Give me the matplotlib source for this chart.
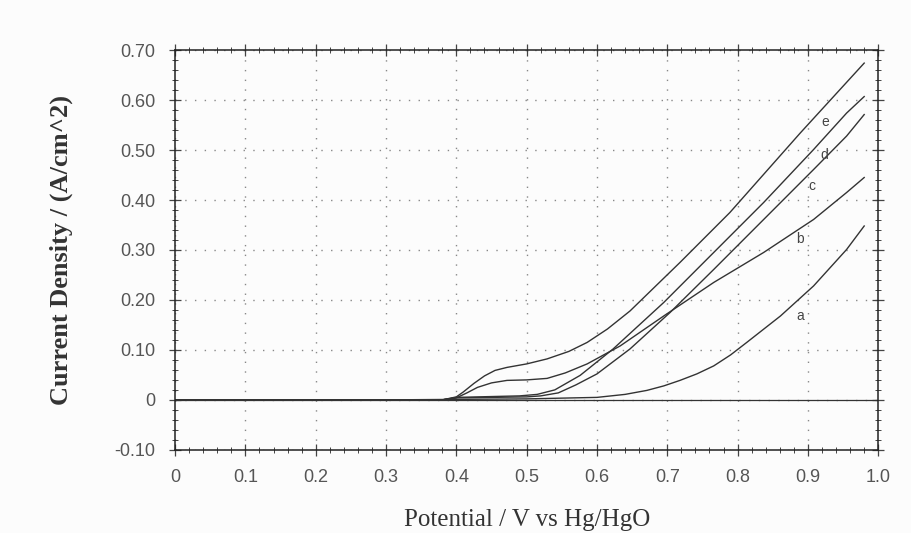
import numpy as np
import matplotlib.pyplot as plt

# Potential (V vs Hg/HgO) and current density (A/cm^2)
v_a = [0.0, 0.30, 0.50, 0.60, 0.64, 0.671, 0.695, 0.718, 0.742, 0.766, 0.79, 0.813,
       0.861, 0.908, 0.955, 0.98]
j_a = [0.0, 0.0, 0.002, 0.005, 0.011, 0.019, 0.028, 0.039, 0.052, 0.068, 0.090, 0.115,
       0.168, 0.228, 0.301, 0.348]

v_b = [0.0, 0.38, 0.40, 0.415, 0.43, 0.45, 0.472, 0.50, 0.529, 0.555, 0.586, 0.633,
       0.695, 0.766, 0.837, 0.908, 0.955, 0.98]
j_b = [0.0, 0.0, 0.004, 0.014, 0.025, 0.034, 0.039, 0.040, 0.043, 0.054, 0.072, 0.108,
       0.168, 0.235, 0.295, 0.361, 0.415, 0.445]

v_c = [0.0, 0.38, 0.40, 0.50, 0.52, 0.545, 0.57, 0.600, 0.647, 0.704, 0.766, 0.837,
       0.908, 0.955, 0.98]
j_c = [0.0, 0.0, 0.004, 0.006, 0.008, 0.014, 0.030, 0.052, 0.102, 0.175, 0.261, 0.361,
       0.461, 0.528, 0.571]

v_d = [0.0, 0.38, 0.40, 0.49, 0.515, 0.54, 0.576, 0.623, 0.695, 0.766, 0.837, 0.908,
       0.955, 0.98]
j_d = [0.0, 0.0, 0.005, 0.008, 0.011, 0.020, 0.049, 0.102, 0.195, 0.295, 0.395, 0.501,
       0.574, 0.607]

v_e = [0.0, 0.38, 0.40, 0.41, 0.425, 0.44, 0.455, 0.472, 0.50, 0.529, 0.56, 0.586,
       0.615, 0.647, 0.718, 0.789, 0.889, 0.98]
j_e = [0.0, 0.0, 0.006, 0.016, 0.033, 0.048, 0.059, 0.065, 0.072, 0.082, 0.097, 0.115,
       0.142, 0.178, 0.275, 0.375, 0.534, 0.674]

labels = ['a', 'b', 'c', 'd', 'e']
label_x = [0.889, 0.889, 0.906, 0.923, 0.925]
label_y = [0.168, 0.321, 0.428, 0.490, 0.557]

x_ticks = [0, 0.1, 0.2, 0.3, 0.4, 0.5, 0.6, 0.7, 0.8, 0.9, 1.0]
x_tick_labels = ['0', '0.1', '0.2', '0.3', '0.4', '0.5', '0.6', '0.7', '0.8', '0.9', '1.0']
y_ticks = [-0.1, 0, 0.1, 0.2, 0.3, 0.4, 0.5, 0.6, 0.7]
y_tick_labels = ['-0.10', '0', '0.10', '0.20', '0.30', '0.40', '0.50', '0.60', '0.70']

fig = plt.figure(figsize=(9.12, 5.33), dpi=100, facecolor='#fcfcfc')
ax = fig.add_axes([0.192, 0.156, 0.771, 0.750])
ax.set_facecolor('#fcfcfc')

line_col = '#333333'
for v, j in [(v_a, j_a), (v_b, j_b), (v_c, j_c), (v_d, j_d), (v_e, j_e)]:
    ax.plot(v, j, color=line_col, lw=1.0)

for lab, lx, ly in zip(labels, label_x, label_y):
    ax.text(lx, ly, lab, fontsize=10, color='#444444', family='Liberation Sans',
            ha='center', va='center')

ax.set_xlim(0, 1.0)
ax.set_ylim(-0.1, 0.7)
ax.set_xticks(x_ticks)
ax.set_xticklabels(x_tick_labels)
ax.set_yticks(y_ticks)
ax.set_yticklabels(y_tick_labels)
ax.set_xticks(np.arange(0, 1.0001, 0.02), minor=True)
ax.set_yticks(np.arange(-0.1, 0.7001, 0.02), minor=True)

ax.tick_params(which='major', direction='inout', length=8, width=0.9,
               top=True, right=True, labelsize=13, colors='#444444', pad=10)
ax.tick_params(which='minor', direction='inout', length=4, width=0.7,
               top=True, right=True, colors='#444444')
for lbl in ax.get_xticklabels() + ax.get_yticklabels():
    lbl.set_family('Liberation Sans')
    lbl.set_color('#555555')

ax.axhline(0, color=line_col, lw=0.9)
ax.grid(True, which='major', linestyle=(0, (1, 6)), color='#888888', lw=1.0)

for sp in ax.spines.values():
    sp.set_color('#222222')
    sp.set_linewidth(1.1)

ax.set_xlabel('Potential / V vs Hg/HgO', family='Liberation Serif', fontsize=18,
              color='#333333', labelpad=16)
ax.set_ylabel('Current Density / (A/cm^2)', family='Liberation Serif', fontsize=19,
              fontweight='bold', color='#333333', labelpad=30)

fig.savefig('out.png', dpi=100, facecolor=fig.get_facecolor())
